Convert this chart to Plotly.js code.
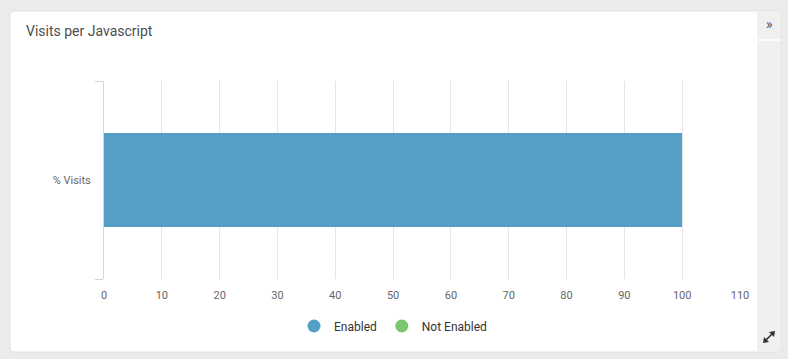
<!DOCTYPE html>
<html>
<head>
<meta charset="utf-8">
<script src="https://cdn.plot.ly/plotly-3.0.1.min.js"></script>
<style>html,body{margin:0;padding:0;background:#ebebeb;}#chart{width:788px;height:359px;}</style>
</head>
<body>
<div id="chart"></div>
<script>
// ---- data ----
const categories = ['% Visits'];
const seriesNames = ['Enabled', 'Not Enabled'];
const enabledValues = [100];
const notEnabledValues = [0];
const xTickValues = [0, 10, 20, 30, 40, 50, 60, 70, 80, 90, 100, 110];
const chartTitle = 'Visits per Javascript';

// ---- geometry helpers (pixel -> paper) ----
const W = 788, H = 359, L = 104, R = 48, T = 81, B = 80;
const PW = W - L - R, PH = H - T - B;
const px = v => (v - L) / PW;
const py = v => (H - B - v) / PH;
const P = (x, y) => px(x) + ',' + py(y);

function roundRect(x0, y0, x1, y1, r, corners) {
  const [tl, tr, br, bl] = corners || [true, true, true, true];
  const p = [];
  p.push('M' + P(x0 + (tl ? r : 0), y0));
  p.push('L' + P(x1 - (tr ? r : 0), y0));
  if (tr) p.push('Q' + P(x1, y0) + ' ' + P(x1, y0 + r));
  p.push('L' + P(x1, y1 - (br ? r : 0)));
  if (br) p.push('Q' + P(x1, y1) + ' ' + P(x1 - r, y1));
  p.push('L' + P(x0 + (bl ? r : 0), y1));
  if (bl) p.push('Q' + P(x0, y1) + ' ' + P(x0, y1 - r));
  p.push('L' + P(x0, y0 + (tl ? r : 0)));
  if (tl) p.push('Q' + P(x0, y0) + ' ' + P(x0 + r, y0));
  p.push('Z');
  return p.join(' ');
}

const colors = ['#559fc7', '#7cc66b'];
const font = 'Roboto, "Open Sans", sans-serif';

const traces = [
  {type: 'bar', orientation: 'h', y: categories, x: enabledValues, name: seriesNames[0],
   marker: {color: colors[0], line: {width: 0}}, showlegend: false, hoverinfo: 'x+name'},
  {type: 'bar', orientation: 'h', y: categories, x: notEnabledValues, name: seriesNames[1],
   marker: {color: colors[1], line: {width: 0}}, showlegend: false, hoverinfo: 'x+name'},
  {type: 'scatter', mode: 'markers', x: [null], y: [null], name: seriesNames[0],
   marker: {symbol: 'circle', size: 13, color: colors[0]}, showlegend: true, hoverinfo: 'skip'},
  {type: 'scatter', mode: 'markers', x: [null], y: [null], name: seriesNames[1],
   marker: {symbol: 'circle', size: 13, color: colors[1]}, showlegend: true, hoverinfo: 'skip'}
];

const layout = {
  width: W, height: H,
  margin: {l: L, r: R, t: T, b: B, pad: 0},
  paper_bgcolor: '#ebebeb',
  plot_bgcolor: 'rgba(0,0,0,0)',
  font: {family: font, size: 11, color: '#666666'},
  title: {text: chartTitle, x: 26 / W, xref: 'container', xanchor: 'left',
          y: 1 - 31 / H, yref: 'container', yanchor: 'middle',
          font: {family: font, size: 14, color: '#4d4d4d'}},
  barmode: 'stack',
  bargap: 0.525,
  xaxis: {range: [0, 110], tickvals: xTickValues, showgrid: true, gridcolor: '#e6e6e6', gridwidth: 1,
          zeroline: false, showline: false, ticks: '', ticklabelstandoff: 8,
          tickfont: {family: font, size: 11, color: '#666666'}, fixedrange: true},
  yaxis: {type: 'category', categoryarray: categories, showline: true, linecolor: '#ccd6eb', linewidth: 1,
          ticks: 'outside', ticklen: 8, tickcolor: '#ccd6eb', tickwidth: 1, tickson: 'boundaries',
          ticklabelstandoff: 10,
          showgrid: false, zeroline: false, tickfont: {family: font, size: 11, color: '#666666'},
          fixedrange: true},
  legend: {orientation: 'h', traceorder: 'normal', x: px(393), xanchor: 'center', y: py(326), yanchor: 'middle',
           font: {family: font, size: 12, color: '#333333'}, bgcolor: 'rgba(0,0,0,0)',
           itemclick: false, itemdoubleclick: false},
  shapes: [
    {type: 'path', xref: 'paper', yref: 'paper', layer: 'below', path: roundRect(10, 11, 781, 352, 5),
     fillcolor: '#ffffff', line: {color: '#e2e2e2', width: 1}},
    {type: 'path', xref: 'paper', yref: 'paper', layer: 'below',
     path: roundRect(757, 11.5, 780.5, 351.5, 5, [false, true, true, false]),
     fillcolor: '#f0f0f0', line: {width: 0}},
    {type: 'line', xref: 'paper', yref: 'paper', layer: 'below', x0: px(757), x1: px(780.5), y0: py(40), y1: py(40),
     line: {color: '#ffffff', width: 1.5}},
    // expand icon: diagonal line with two arrowheads
    {type: 'line', xref: 'paper', yref: 'paper', x0: px(765.5), y0: py(340.5), x1: px(772.5), y1: py(333.5),
     line: {color: '#333333', width: 1.6}},
    {type: 'path', xref: 'paper', yref: 'paper', fillcolor: '#333333', line: {width: 0},
     path: 'M' + P(775, 331) + ' L' + P(769, 332) + ' L' + P(774, 337) + ' Z'},
    {type: 'path', xref: 'paper', yref: 'paper', fillcolor: '#333333', line: {width: 0},
     path: 'M' + P(763, 343) + ' L' + P(769, 342) + ' L' + P(764, 337) + ' Z'}
  ],
  annotations: [
    {xref: 'paper', yref: 'paper', x: px(769), y: py(24), text: '»', showarrow: false,
     font: {family: font, size: 14, color: '#555555'}, xanchor: 'center', yanchor: 'middle'}
  ]
};

Plotly.newPlot('chart', traces, layout, {displayModeBar: false, staticPlot: false});
</script>
</body>
</html>
